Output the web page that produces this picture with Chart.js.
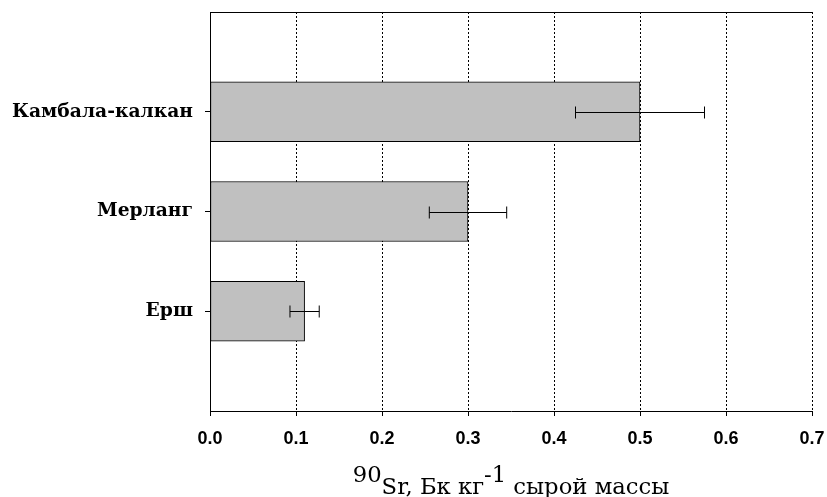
<!DOCTYPE html>
<html>
<head>
<meta charset="utf-8">
<script src="https://cdn.jsdelivr.net/npm/chart.js@4.4.0/dist/chart.umd.min.js"></script>
<style>
  html, body { margin: 0; padding: 0; background: #fff; }
  #wrap { width: 827px; height: 497px; }
</style>
</head>
<body>
<div id="wrap"><canvas id="chart"></canvas></div>
<script>
const species = ['Камбала-калкан', 'Мерланг', 'Ерш'];
const sr90 = [0.5, 0.3, 0.11];
const sr90Err = [0.075, 0.045, 0.017];
const xMin = 0, xMax = 0.7, xStep = 0.1;

// empty slots above and below so the bars sit on the inner ticks
const labels = ['', ...species, ''];
const values = [null, ...sr90, null];
const errors = [null, ...sr90Err, null];

const errorBars = {
  id: 'errorBars',
  afterDatasetsDraw(chart) {
    const ctx = chart.ctx;
    const x = chart.scales.x;
    const meta = chart.getDatasetMeta(0);
    ctx.save();
    ctx.strokeStyle = '#000';
    ctx.lineWidth = 1;
    meta.data.forEach((bar, i) => {
      if (values[i] == null) return;
      const y = Math.round(bar.y) + 0.5;
      const lo = x.getPixelForValue(values[i] - errors[i]);
      const hi = x.getPixelForValue(values[i] + errors[i]);
      ctx.beginPath();
      ctx.moveTo(lo, y); ctx.lineTo(hi, y);
      ctx.moveTo(lo, y - 6); ctx.lineTo(lo, y + 6);
      ctx.moveTo(hi, y - 6); ctx.lineTo(hi, y + 6);
      ctx.stroke();
    });
    ctx.restore();
  }
};

const frame = {
  id: 'frame',
  afterDraw(chart) {
    const { ctx, chartArea: a } = chart;
    ctx.save();
    ctx.strokeStyle = '#000';
    ctx.lineWidth = 1;
    ctx.beginPath();
    ctx.moveTo(a.left, a.top + 0.5);
    ctx.lineTo(a.right, a.top + 0.5);
    ctx.stroke();

    // axis title with raised "90" and "-1"
    const parts = [['90', 12], ['Sr, Бк кг', 0], ['-1', 12], [' сырой массы', 0]];
    ctx.font = '22.7px "DejaVu Serif"';
    ctx.fillStyle = '#000';
    ctx.textBaseline = 'alphabetic';
    ctx.textAlign = 'left';
    const total = parts.reduce((s, p) => s + ctx.measureText(p[0]).width, 0);
    let px = (a.left + a.right) / 2 - total / 2;
    const base = 494;
    parts.forEach(([t, raise]) => {
      ctx.fillText(t, px, base - raise);
      px += ctx.measureText(t).width;
    });
    ctx.restore();
  }
};

new Chart(document.getElementById('chart'), {
  type: 'bar',
  data: {
    labels: labels,
    datasets: [{
      data: values,
      backgroundColor: '#c0c0c0',
      borderColor: '#000',
      borderWidth: 1,
      borderSkipped: false,
      barThickness: 60
    }]
  },
  options: {
    indexAxis: 'y',
    responsive: true,
    maintainAspectRatio: false,
    animation: false,
    layout: { padding: { top: 12, right: 15, left: 0, bottom: 0 } },
    plugins: {
      legend: { display: false },
      tooltip: { enabled: false }
    },
    scales: {
      x: {
        min: xMin,
        max: xMax,
        afterFit(scale) {
          scale.height = 86;
          scale.paddingLeft = 0;
          scale.paddingRight = 0;
        },
        ticks: {
          stepSize: xStep,
          color: '#000',
          padding: 12,
          font: { family: '"Liberation Sans", Arial, sans-serif', size: 18, weight: 'bold' },
          callback: v => Number(v).toFixed(1)
        },
        grid: {
          color: '#000',
          lineWidth: 1,
          tickLength: 5,
          tickColor: '#000'
        },
        border: { display: true, color: '#000', width: 1, dash: [2, 2] }
      },
      y: {
        offset: false,
        afterFit(scale) {
          scale.width = 210;
          scale.paddingTop = 0;
          scale.paddingBottom = 0;
        },
        ticks: {
          color: '#000',
          padding: 12,
          font: { family: '"DejaVu Serif", serif', size: 18.7, weight: 'bold' }
        },
        grid: {
          offset: false,
          drawOnChartArea: false,
          tickLength: 5,
          tickColor: c => (c.index === 0 || c.index === labels.length - 1) ? 'rgba(0,0,0,0)' : '#000'
        },
        border: { display: true, color: '#000', width: 1 }
      }
    }
  },
  plugins: [errorBars, frame]
});
</script>
</body>
</html>
